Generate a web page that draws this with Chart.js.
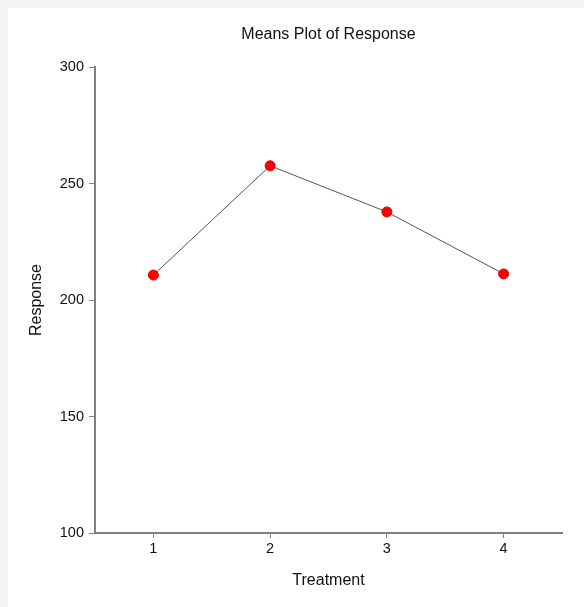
<!DOCTYPE html>
<html>
<head>
<meta charset="utf-8">
<script src="https://cdn.jsdelivr.net/npm/chart.js@4"></script>
<style>
  html, body { margin:0; padding:0; background:#f4f4f4; }
  #wrap { position:absolute; left:8px; top:8px; width:576px; height:599px; background:#fff; }
</style>
</head>
<body>
<div id="wrap"><canvas id="chart" width="576" height="599"></canvas></div>
<script>
// means plot data
const treatments = ['1','2','3','4'];
const means = [210.7, 257.6, 237.8, 211.2];
const yTicks = [100, 150, 200, 250, 300];

const titleText = 'Means Plot of Response';
const axisGray = '#808080';
const textColor = '#111111';

const titlePlugin = {
  id: 'topTitle',
  afterDraw(c){
    const ctx = c.ctx;
    const a = c.chartArea;
    ctx.save();
    ctx.font = '16px "Liberation Sans", Arial, sans-serif';
    ctx.fillStyle = textColor;
    ctx.textAlign = 'center';
    ctx.textBaseline = 'middle';
    ctx.fillText(titleText, (a.left + a.right) / 2, 26.5);
    ctx.restore();
  }
};

const ctx = document.getElementById('chart');
const chart = new Chart(ctx, {
  type: 'line',
  data: {
    labels: treatments,
    datasets: [{
      data: means,
      borderColor: '#555555',
      borderWidth: 1,
      pointRadius: 5,
      pointBackgroundColor: '#ff0000',
      pointBorderColor: '#e00000',
      pointBorderWidth: 1,
      tension: 0
    }]
  },
  options: {
    responsive: false,
    animation: false,
    layout: { padding: { top: 59, right: 22, left: 0, bottom: 0 } },
    plugins: {
      legend: { display: false },
      tooltip: { enabled: false }
    },
    scales: {
      x: {
        type: 'category',
        offset: true,
        afterFit(s){ s.height = 74; },
        border: { color: axisGray, width: 2 },
        grid: { drawOnChartArea: false, drawTicks: true, tickLength: 5, color: axisGray, offset: false },
        ticks: { color: textColor, padding: 2, font: { family: '"Liberation Sans", Arial, sans-serif', size: 14.5 } },
        title: {
          display: true, text: 'Treatment', color: textColor,
          font: { family: '"Liberation Sans", Arial, sans-serif', size: 16 },
          padding: { top: 0, bottom: 16.5 }
        }
      },
      y: {
        min: 100, max: 300,
        afterFit(s){ s.width = 87; },
        afterBuildTicks(s){ s.ticks = yTicks.map(v => ({ value: v })); },
        border: { color: axisGray, width: 2 },
        grid: { drawOnChartArea: false, drawTicks: true, tickLength: 6, color: axisGray },
        ticks: { color: textColor, padding: 5, font: { family: '"Liberation Sans", Arial, sans-serif', size: 14.5 } },
        title: {
          display: true, text: 'Response', color: textColor,
          font: { family: '"Liberation Sans", Arial, sans-serif', size: 16 },
          padding: { top: 19, bottom: 0 }
        }
      }
    }
  },
  plugins: [titlePlugin]
});
</script>
</body>
</html>
